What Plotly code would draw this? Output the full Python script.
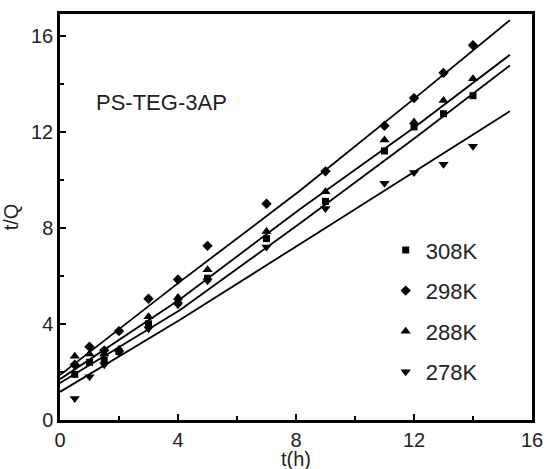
import plotly.graph_objects as go

# measurement times (h)
t_h = [0.5, 1, 1.5, 2, 3, 4, 5, 7, 9, 11, 12, 13, 14]

# t/Q values per temperature
tq_308 = [1.9, 2.4, 2.5, 2.85, 4.0, 4.9, 5.9, 7.55, 9.1, 11.2, 12.2, 12.75, 13.5]
tq_298 = [2.3, 3.05, 2.9, 3.7, 5.05, 5.85, 7.25, 9.0, 10.35, 12.25, 13.4, 14.45, 15.6]
tq_288 = [2.65, 2.75, 2.75, 2.95, 4.3, 5.1, 6.25, 7.85, 9.5, 11.65, 12.4, 13.3, 14.2]
tq_278 = [0.9, 1.8, 2.3, 2.8, 3.8, 4.8, 5.8, 7.2, 8.8, 9.85, 10.3, 10.65, 11.4]

# fitted lines
fit_t = [0, 4.07, 8.14, 12.03, 15.25]
fit_308 = [1.54, 4.58, 8.19, 11.74, 14.76]
fit_298 = [1.87, 5.76, 9.55, 13.4, 16.64]
fit_288 = [1.7, 5.03, 8.78, 12.2, 15.2]
fit_278 = [1.17, 4.17, 7.33, 10.35, 12.85]

series = [
    ("308K", tq_308, fit_308, "square", 7),
    ("298K", tq_298, fit_298, "diamond", 8),
    ("288K", tq_288, fit_288, "triangle-up", 9),
    ("278K", tq_278, fit_278, "triangle-down", 9),
]

fig = go.Figure()

for name, pts, fit, sym, size in series:
    fig.add_trace(go.Scatter(
        x=fit_t, y=fit, mode="lines",
        line=dict(color="black", width=1.8),
        showlegend=False, hoverinfo="skip"
    ))
    fig.add_trace(go.Scatter(
        x=t_h, y=pts, mode="markers", name=name, legendgroup=name,
        marker=dict(symbol=sym, size=size, color="black")
    ))

fig.add_annotation(
    text="PS-TEG-3AP", x=0.072, y=0.783, xref="paper", yref="paper",
    xanchor="left", yanchor="middle", showarrow=False,
    font=dict(size=22, color="#222")
)
# x axis title as annotation so it can sit just below the tick labels
fig.add_annotation(
    text="t(h)", x=0.5, y=-0.097, xref="paper", yref="paper",
    xanchor="center", yanchor="middle", showarrow=False,
    font=dict(size=20, color="#222")
)

axis_common = dict(
    showgrid=False, zeroline=False, showline=True, linecolor="black",
    linewidth=2.5, mirror=True, ticks="inside", ticklen=6, tickwidth=2,
    tickcolor="black", tickfont=dict(size=20, color="#222"),
    minor=dict(ticks="inside", ticklen=4, tickwidth=1.5, tickcolor="black"),
    automargin=False,
)

fig.update_xaxes(
    range=[0, 16], tickvals=[0, 4, 8, 12, 16], minor_dtick=2,
    ticklabelstandoff=0,
    **axis_common
)
fig.update_yaxes(
    range=[0, 16.9], tickvals=[0, 4, 8, 12, 16], minor_dtick=2,
    title=dict(text="t/Q", font=dict(size=20, color="#222")),
    **axis_common
)

fig.update_layout(
    width=544, height=469,
    margin=dict(l=60, r=12, t=14, b=49),
    plot_bgcolor="white", paper_bgcolor="white",
    font=dict(family="Liberation Sans, Arial, sans-serif", color="#222"),
    legend=dict(
        x=0.69, y=0.47, xanchor="left", yanchor="top",
        font=dict(size=22), tracegroupgap=9, itemwidth=30,
        bgcolor="rgba(0,0,0,0)"
    ),
)

fig.write_html("out.html", config={"displayModeBar": False},
               post_script="document.body.style.margin='0';")
